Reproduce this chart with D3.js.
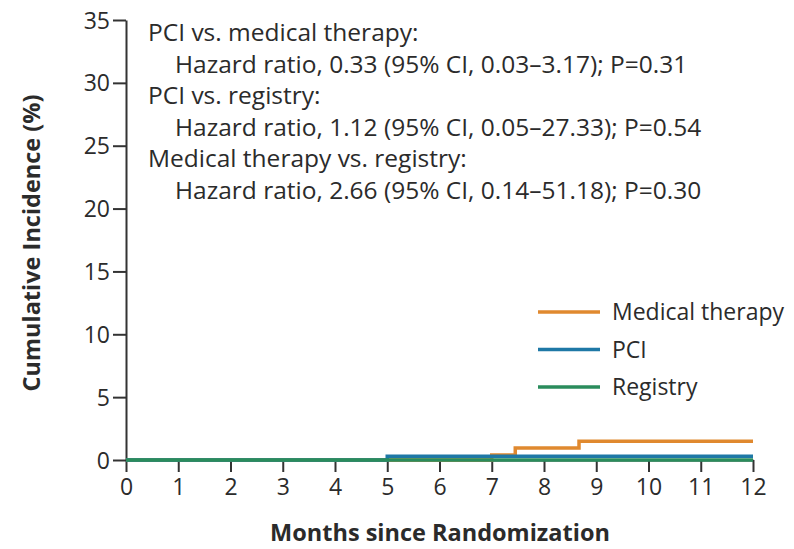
<!DOCTYPE html>
<html>
<head>
<meta charset="utf-8">
<script src="https://cdn.jsdelivr.net/npm/d3@7"></script>
<style>
body{margin:0;background:#fff;}
text{font-family:"Open Sans",Lato,sans-serif;fill:#2b2b2b;}
</style>
</head>
<body>
<div id="container"></div>
<script>
var width = 794, height = 549;

// data
var medMonths = [0, 7, 7.45, 8.67, 12];
var medValues = [0, 0.4, 0.95, 1.5, 1.5];
var pciMonths = [0, 5, 12];
var pciValues = [0, 0.3, 0.3];
var regMonths = [0, 12];
var regValues = [0, 0];
var seriesNames = ["Medical therapy", "PCI", "Registry"];
var seriesColors = ["#e0892f", "#1e78a6", "#2a8c5c"];
var xTicks = [0,1,2,3,4,5,6,7,8,9,10,11,12];
var yTicks = [0,5,10,15,20,25,30,35];
var notes = [
  {text:"PCI vs. medical therapy:", indent:false},
  {text:"Hazard ratio, 0.33 (95% CI, 0.03\u20133.17); P=0.31", indent:true},
  {text:"PCI vs. registry:", indent:false},
  {text:"Hazard ratio, 1.12 (95% CI, 0.05\u201327.33); P=0.54", indent:true},
  {text:"Medical therapy vs. registry:", indent:false},
  {text:"Hazard ratio, 2.66 (95% CI, 0.14\u201351.18); P=0.30", indent:true}
];

var svg = d3.select("#container").append("svg")
  .attr("width", width)
  .attr("height", height);

var x = d3.scaleLinear().domain([0,12]).range([126,753]);
var y = d3.scaleLinear().domain([0,35]).range([460,20]);

// y axis
var yAxis = svg.append("g")
  .attr("transform","translate(126,0)")
  .call(d3.axisLeft(y).tickValues(yTicks).tickSize(13).tickPadding(3).tickSizeOuter(0));
yAxis.select(".domain").attr("stroke","#333").attr("stroke-width",2);
yAxis.selectAll(".tick line").attr("stroke","#333").attr("stroke-width",2);
yAxis.selectAll(".tick text").style("font-size","23px").attr("dy","0.35em");

// x axis
var xAxis = svg.append("g")
  .attr("transform","translate(0,460)")
  .call(d3.axisBottom(x).tickValues(xTicks).tickSize(12).tickPadding(7).tickSizeOuter(0));
xAxis.select(".domain").attr("stroke","#333").attr("stroke-width",2);
xAxis.selectAll(".tick line").attr("stroke","#333").attr("stroke-width",2);
xAxis.selectAll(".tick text").style("font-size","23px");

svg.selectAll(".tick text").style("fill","#2b2b2b").style("font-family","'Open Sans', sans-serif");

// axis titles
svg.append("text")
  .attr("x", 440).attr("y", 541)
  .attr("text-anchor","middle")
  .style("font-size","23.5px").style("font-weight","bold")
  .text("Months since Randomization");

svg.append("text")
  .attr("transform","translate(40,243) rotate(-90)")
  .attr("text-anchor","middle")
  .style("font-size","23.5px").style("font-weight","bold")
  .text("Cumulative Incidence (%)");

// step curves, registry drawn last so it sits on top at zero
var line = d3.line()
  .x(d => x(d[0]))
  .y(d => y(d[1]))
  .curve(d3.curveStepAfter);

var series = [
  d3.zip(medMonths, medValues),
  d3.zip(pciMonths, pciValues),
  d3.zip(regMonths, regValues)
];

svg.selectAll("path.curve")
  .data(series)
  .enter()
  .append("path")
  .attr("class","curve")
  .attr("d", line)
  .attr("fill","none")
  .attr("stroke", (d,i) => seriesColors[i])
  .attr("stroke-width",3.5);

// annotation
svg.selectAll("text.note")
  .data(notes)
  .enter()
  .append("text")
  .attr("class","note")
  .attr("x", d => d.indent ? 175 : 148)
  .attr("y", (d,i) => 41 + i*31.5)
  .style("font-size","24.5px")
  .text(d => d.text);

// legend
var legend = svg.selectAll("g.legend")
  .data(seriesNames)
  .enter()
  .append("g")
  .attr("class","legend")
  .attr("transform",(d,i) => "translate(538," + (312 + i*37.5) + ")");

legend.append("line")
  .attr("x1",0).attr("x2",62)
  .attr("stroke",(d,i) => seriesColors[i])
  .attr("stroke-width",3.5);

legend.append("text")
  .attr("x",74).attr("dy","0.35em")
  .style("font-size","23px")
  .text(d => d);
</script>
</body>
</html>
